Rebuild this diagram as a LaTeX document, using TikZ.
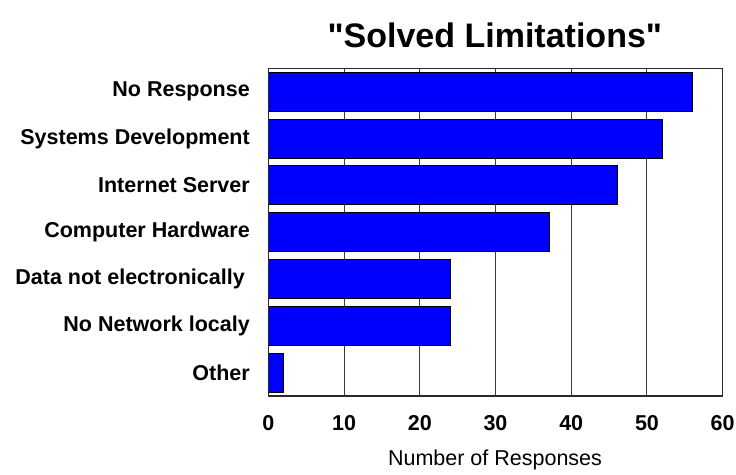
\documentclass[tikz,border=0pt]{standalone}
\usepackage{fontspec}
\setmainfont{Liberation Sans}
\newfontfamily\titlefont{Liberation Sans}
\usetikzlibrary{calc}

\definecolor{barblue}{RGB}{0,0,255}
\definecolor{gridgray}{RGB}{60,60,60}

\tikzset{
    bar/.style={draw=black, line width=1pt, fill=barblue, inner sep=0pt,
        minimum height=39pt, anchor=west},
    catlabel/.style={anchor=east, inner sep=0pt,
        font=\bfseries\fontsize{21.5}{24}\selectfont},
    ticklabel/.style={inner sep=0pt, font=\bfseries\fontsize{21.5}{24}\selectfont},
    gridline/.style={draw=gridgray, line width=1pt}
}

\begin{document}
\begin{tikzpicture}[x=1pt, y=1pt]
    \useasboundingbox (0,0) rectangle (736,474);
    \def\ux{7.573}  % pt per response
    \def\uy{46.81}  % pt per category
    \coordinate (O) at (268.3,78);
    \coordinate (T) at (722.7,405.7);
    % grid
    \foreach \v in {10,20,...,50}
        \draw[gridline] ($(O)+(\v*\ux,0)$) -- ($(O)+(\v*\ux,327.7)$);
    % bars and categories
    \foreach \val/\lab/\gap [count=\i] in {56/No Response/0, 52/Systems Development/0,
            46/Internet Server/0, 37/Computer Hardware/0,
            24/Data not electronically/5, 24/No Network localy/0, 2/Other/0} {
        \node[bar, minimum width=\val*\ux pt] (bar\i) at (268.3,405.7-\i*\uy+0.5*\uy) {};
        \node[catlabel] (lab\i) at (250-\gap,405.7-\i*\uy+0.5*\uy) {\lab};
    }
    % frame
    \draw[line width=1.4pt, draw=gridgray!70!black] (O) rectangle (T);
    % axis
    \foreach \v [count=\k] in {0,10,...,60}
        \node[ticklabel] (tick\k) at ($(O)+(\v*\ux,-27)$) {\v};
    \node[font=\fontsize{21.5}{24}\selectfont] (xlabel) at (495,14) {Number of Responses};
    \node[font=\titlefont\bfseries\fontsize{34}{40}\selectfont] (title) at (494.8,439)
        {"Solved Limitations"};
\end{tikzpicture}
\end{document}
